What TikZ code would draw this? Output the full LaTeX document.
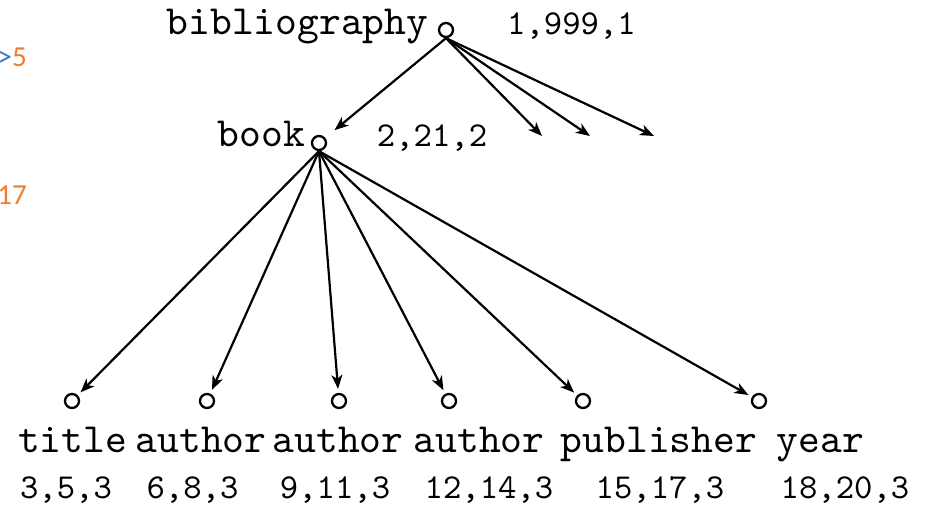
\documentclass[tikz,border=0pt]{standalone}
\usepackage{fontspec}
\newfontfamily\carl{Carlito}
\newfontfamily\tten{lmmono10-regular}[Extension=.otf]
\usetikzlibrary{arrows.meta}
\definecolor{offblue}{HTML}{4472C4}
\definecolor{offorange}{HTML}{ED7D31}
\begin{document}
\begin{tikzpicture}[x=1pt,y=-1pt,
  vert/.style={circle,draw,line width=2.3pt,minimum size=14pt,inner sep=0pt},
  lbl/.style={font=\fontsize{41.5}{48}\selectfont\tten,inner sep=0pt,anchor=base},
  num/.style={font=\fontsize{35}{42}\selectfont\tten,inner sep=0pt,anchor=base},
  side/.style={font=\fontsize{29}{34}\selectfont\carl,inner sep=0pt,anchor=base east},
  edge/.style={line width=2.2pt,-{Stealth[length=14pt,width=11pt,inset=4pt]}}]
\useasboundingbox (0,0) rectangle (930,505);

% clipped side texts
\node[side] (s1) at (27,67) {\textcolor{offblue}{>}\textcolor{offorange}{5}};
\node[side,text=offorange] (s2) at (27,205) {17};

% vertices
\node[vert] (bib) at (446,30) {};
\node[vert] (book) at (319,143) {};
\node[vert] (title) at (72,401) {};
\node[vert] (au1) at (207,401) {};
\node[vert] (au2) at (339,401) {};
\node[vert] (au3) at (449,401) {};
\node[vert] (pub) at (583,401) {};
\node[vert] (year) at (759,401) {};

\coordinate (e1) at (542,136);
\coordinate (e2) at (590,136);
\coordinate (e3) at (654,136);

% labels
\node[lbl] (lbib) at (297.5,35) {bibliography};
\node[num] (nbib) at (571.5,35) {1,999,1};
\node[lbl] (lbook) at (261.5,147) {book};
\node[num] (nbook) at (432,147) {2,21,2};

\node[lbl] (ltitle) at (72.5,452) {title};
\node[lbl] (lau1) at (201,452) {author};
\node[lbl] (lau2) at (338,452) {author};
\node[lbl] (lau3) at (479,452) {author};
\node[lbl] (lpub) at (659,452) {publisher};
\node[lbl] (lyear) at (820.5,452) {year};

\node[num] (ntitle) at (66,498) {3,5,3};
\node[num] (nau1) at (192.5,498) {6,8,3};
\node[num] (nau2) at (335,498) {9,11,3};
\node[num] (nau3) at (489,498) {12,14,3};
\node[num] (npub) at (660,498) {15,17,3};
\node[num] (nyear) at (845,498) {18,20,3};

% edges
\draw[edge,shorten >=12pt] (bib.south) -- (book);
\draw[edge] (bib.south) -- (e1);
\draw[edge] (bib.south) -- (e2);
\draw[edge] (bib.south) -- (e3);

\foreach \t in {title,au1,au2,au3,pub,year}
  \draw[edge,shorten >=4pt] (book.south) -- (\t);
\end{tikzpicture}
\end{document}
